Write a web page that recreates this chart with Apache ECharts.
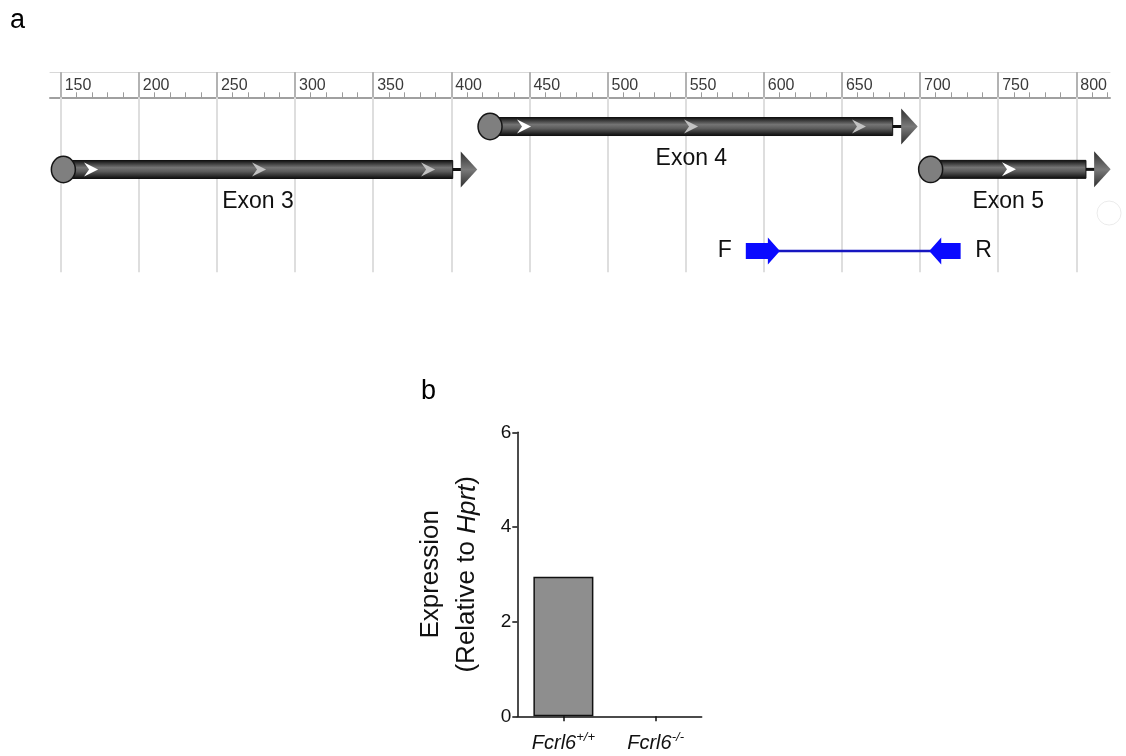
<!DOCTYPE html>
<html>
<head>
<meta charset="utf-8">
<script src="https://cdn.jsdelivr.net/npm/echarts@6/dist/echarts.min.js"></script>
<style>
html,body{margin:0;padding:0;background:#fff;}
#c{width:1126px;height:756px;}
</style>
</head>
<body>
<div id="c"></div>
<script>
// ---------- Panel a: gene map ----------
const rulerMin = 143.15;
const rulerMax = 821.6;
const rulerMajorTicks = [150, 200, 250, 300, 350, 400, 450, 500, 550, 600, 650, 700, 750, 800];
const rulerMinorTicks = [];
for (let v = 150; v <= 820; v += 10) { if (v % 50 !== 0) rulerMinorTicks.push(v); }

const exonNames = ['Exon 3', 'Exon 4', 'Exon 5'];
const exonStart = [151.7, 424.8, 706.8];
const exonEnd = [400.9, 682.5, 806.2];
const exonArrowEnd = [416.6, 698.5, 822.0];
const exonLane = [1.653, 0.669, 1.65];
const exonChevrons = [[168.8, 276.3, 384.5], [445.9, 552.8, 660.3], [756.3]];

const primerLabels = ['F', 'R'];
const primerFStart = 588.5, primerFTip = 610.3, primerRTip = 705.9, primerREnd = 726.0;
const primerLane = 3.52;

// ---------- Panel b: bar chart ----------
const categories = ['Fcrl6+/+', 'Fcrl6-/-'];
const expression = [2.95, 0];

const FONT = '"Liberation Sans", Arial, Helvetica, sans-serif';

const chart = echarts.init(document.getElementById('c'));

function barGrad() {
  return new echarts.graphic.LinearGradient(0, 0, 0, 1, [
    {offset: 0, color: '#0a0a0a'},
    {offset: 0.4, color: '#747474'},
    {offset: 0.6, color: '#5c5c5c'},
    {offset: 1, color: '#0a0a0a'}
  ]);
}
function triGrad() {
  return new echarts.graphic.LinearGradient(0, 0, 0, 1, [
    {offset: 0, color: '#2e2e2e'},
    {offset: 0.5, color: '#7a7a7a'},
    {offset: 1, color: '#2e2e2e'}
  ]);
}

function renderExon(params, api) {
  const i = params.dataIndex;
  const lane = api.value(3);
  const s = api.coord([api.value(0), lane]);
  const e = api.coord([api.value(1), lane]);
  const t = api.coord([api.value(2), lane]);
  const y = s[1];
  const triLen = 16.5, triH = 36, barH = 18;
  const ch = [];
  ch.push({type: 'line', shape: {x1: e[0], y1: y, x2: t[0] - triLen + 1, y2: y}, style: {stroke: '#111', lineWidth: 3}});
  ch.push({type: 'polygon', shape: {points: [[t[0] - triLen, y - triH / 2], [t[0], y], [t[0] - triLen, y + triH / 2]]}, style: {fill: triGrad()}});
  ch.push({type: 'rect', shape: {x: s[0], y: y - barH / 2, width: e[0] - s[0], height: barH}, style: {fill: barGrad(), stroke: '#111', lineWidth: 1}});
  exonChevrons[i].forEach(function (c, k) {
    const p = api.coord([c, lane]);
    ch.push({type: 'polygon', shape: {points: [[p[0] - 6, y - 7], [p[0] + 8, y], [p[0] - 6, y + 7], [p[0] - 1, y]]}, style: {fill: k === 0 ? '#ffffff' : '#c2c2c2'}});
  });
  ch.push({type: 'ellipse', shape: {cx: s[0], cy: y, rx: 12, ry: 13.2}, style: {fill: '#7f7f7f', stroke: '#151515', lineWidth: 1.5}});
  ch.push({type: 'text', x: (s[0] + e[0]) / 2, y: y + 32, style: {text: exonNames[i], font: '23px ' + FONT, fill: '#111', align: 'center', verticalAlign: 'middle'}});
  return {type: 'group', children: ch};
}

function renderPrimer(params, api) {
  const lane = api.value(4);
  const f0 = api.coord([api.value(0), lane]);
  const f1 = api.coord([api.value(1), lane]);
  const r1 = api.coord([api.value(2), lane]);
  const r0 = api.coord([api.value(3), lane]);
  const y = f0[1];
  const hl = 12, rh = 8, hh = 13.5;
  const blue = '#0a0aff';
  return {type: 'group', children: [
    {type: 'line', shape: {x1: f1[0] - 2, y1: y, x2: r1[0] + 2, y2: y}, style: {stroke: '#1616c0', lineWidth: 2.5}},
    {type: 'polygon', shape: {points: [[f0[0], y - rh], [f1[0] - hl, y - rh], [f1[0] - hl, y - hh], [f1[0], y], [f1[0] - hl, y + hh], [f1[0] - hl, y + rh], [f0[0], y + rh]]}, style: {fill: blue}},
    {type: 'polygon', shape: {points: [[r0[0], y - rh], [r1[0] + hl, y - rh], [r1[0] + hl, y - hh], [r1[0], y], [r1[0] + hl, y + hh], [r1[0] + hl, y + rh], [r0[0], y + rh]]}, style: {fill: blue}},
    {type: 'text', x: f0[0] - 21, y: y, style: {text: primerLabels[0], font: '23px ' + FONT, fill: '#111', align: 'center', verticalAlign: 'middle'}},
    {type: 'text', x: r0[0] + 23, y: y, style: {text: primerLabels[1], font: '23px ' + FONT, fill: '#111', align: 'center', verticalAlign: 'middle'}}
  ]};
}

const exonData = exonNames.map(function (n, i) { return [exonStart[i], exonEnd[i], exonArrowEnd[i], exonLane[i]]; });
const barData = expression.map(function (v) {
  return v > 0 ? v : {value: v, itemStyle: {borderWidth: 0}};
});

const option = {
  animation: false,
  backgroundColor: '#fff',
  textStyle: {fontFamily: FONT},
  grid: [
    {left: 50, right: 16, top: 97.3, height: 174.7, containLabel: false},
    {left: 517.3, right: 424.3, top: 432.3, bottom: 39.7, containLabel: false}
  ],
  xAxis: [
    { // ruler main axis (bottom line of ruler, major ticks, labels)
      type: 'value', gridIndex: 0, position: 'top', min: rulerMin, max: rulerMax,
      axisLine: {show: true, lineStyle: {color: '#a0a0a0', width: 2}},
      axisTick: {show: true, customValues: rulerMajorTicks, length: 25, inside: false, lineStyle: {color: '#9a9a9a', width: 1.5}},
      axisLabel: {show: true, customValues: rulerMajorTicks, align: 'left', padding: [0, 0, 0, 4], margin: 4, fontSize: 16, color: '#3a3a3a', fontFamily: FONT},
      splitLine: {show: false}
    },
    { // minor ticks
      type: 'value', gridIndex: 0, position: 'top', min: rulerMin, max: rulerMax,
      axisLine: {show: false},
      axisTick: {show: true, customValues: rulerMinorTicks, length: 5, inside: false, lineStyle: {color: '#9a9a9a', width: 1}},
      axisLabel: {show: false}, splitLine: {show: false}
    },
    { // vertical grid lines
      type: 'value', gridIndex: 0, position: 'top', min: rulerMin, max: rulerMax,
      axisLine: {show: false},
      axisTick: {show: true, customValues: rulerMajorTicks, length: 175, inside: true, lineStyle: {color: '#dedede', width: 2}},
      axisLabel: {show: false}, splitLine: {show: false}, z: 0
    },
    { // ruler top edge
      type: 'value', gridIndex: 0, position: 'top', offset: 25, min: rulerMin, max: rulerMax,
      axisLine: {show: true, lineStyle: {color: '#d8d8d8', width: 1}},
      axisTick: {show: false}, axisLabel: {show: false}, splitLine: {show: false}
    },
    { // bar chart categories
      type: 'category', gridIndex: 1, data: categories,
      axisLine: {show: true, lineStyle: {color: '#111', width: 1.5}},
      axisTick: {show: true, alignWithLabel: true, length: 5, lineStyle: {color: '#111', width: 1.5}},
      axisLabel: {
        interval: 0,
        margin: 15,
        formatter: function (v) { return '{i|Fcrl6}{s|' + v.replace('Fcrl6', '') + '}'; },
        rich: {
          i: {fontSize: 20, fontStyle: 'italic', color: '#111', fontFamily: FONT},
          s: {fontSize: 13, fontStyle: 'italic', color: '#111', fontFamily: FONT, padding: [0, 0, 11, 0]}
        }
      },
      splitLine: {show: false}
    }
  ],
  yAxis: [
    {type: 'value', gridIndex: 0, min: 0, max: 4, inverse: true, show: false},
    {
      type: 'value', gridIndex: 1, min: 0, max: 6, interval: 2,
      axisLine: {show: true, lineStyle: {color: '#111', width: 1.5}},
      axisTick: {show: true, length: 5, lineStyle: {color: '#111', width: 1.5}},
      axisLabel: {fontSize: 19, color: '#111', margin: 6, fontFamily: FONT},
      splitLine: {show: false},
      name: '{a|Expression}\n{a|(Relative to }{h|Hprt}{a|)}',
      nameLocation: 'middle', nameRotate: 90, nameGap: 32,
      nameTextStyle: {
        lineHeight: 36,
        rich: {
          a: {fontSize: 26, color: '#111', fontFamily: FONT, lineHeight: 36},
          h: {fontSize: 26, color: '#111', fontStyle: 'italic', fontFamily: FONT, lineHeight: 36}
        }
      }
    }
  ],
  graphic: [
    {type: 'text', x: 10, y: 21, style: {text: 'a', font: '27px ' + FONT, fill: '#000', verticalAlign: 'middle'}},
    {type: 'text', x: 421, y: 392, style: {text: 'b', font: '27px ' + FONT, fill: '#000', verticalAlign: 'middle'}}
  ],
  series: [
    {
      type: 'custom', xAxisIndex: 0, yAxisIndex: 0, clip: false, z: 3,
      renderItem: renderExon, data: exonData, silent: true
    },
    {
      type: 'custom', xAxisIndex: 0, yAxisIndex: 0, clip: false, z: 3,
      renderItem: renderPrimer, data: [[primerFStart, primerFTip, primerRTip, primerREnd, primerLane]], silent: true
    },
    {
      type: 'scatter', xAxisIndex: 0, yAxisIndex: 0, clip: false, z: 2, silent: true,
      symbol: 'circle', symbolSize: 24,
      itemStyle: {color: '#fff', borderColor: '#e6e6e6', borderWidth: 1},
      data: [[821.0, 2.65]]
    },
    {
      type: 'bar', xAxisIndex: 4, yAxisIndex: 1, data: barData, barWidth: 60,
      itemStyle: {color: '#8e8e8e', borderColor: '#111', borderWidth: 1.5}
    }
  ]
};
chart.setOption(option);
</script>
</body>
</html>
